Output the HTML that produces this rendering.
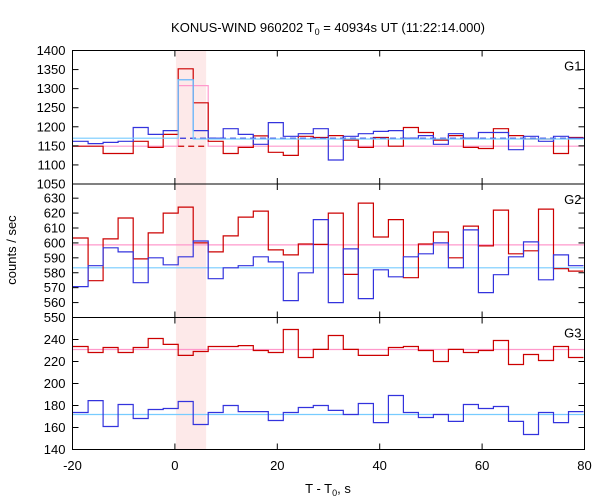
<!DOCTYPE html>
<html><head><meta charset="utf-8"><style>
body{margin:0;background:#fff}
svg{display:block;font-family:"Liberation Sans","DejaVu Sans",sans-serif}
</style></head><body>
<svg id="chart" width="600" height="500" viewBox="0 0 600 500" xmlns="http://www.w3.org/2000/svg"></svg>
<script>
const binStart = -19.88;
const binWidth = 2.932;
const xTicks = [-20, 0, 20, 40, 60, 80];
const shadeRange = [0.2, 6.1];

const g1Red = [1149,1149,1130,1130,1162,1146,1180,1352,1263,1162,1130,1146,1176,1133,1125,1175,1172,1177,1165,1146,1172,1149,1198,1185,1165,1177,1146,1143,1195,1177,1168,1168,1130,1172];
const g1Blue = [1162,1156,1159,1162,1198,1180,1190,1323,1190,1170,1195,1180,1154,1211,1175,1182,1195,1113,1175,1182,1188,1190,1170,1177,1154,1182,1170,1185,1185,1140,1175,1162,1175,1170];
const g1Cyan = [1170,1170,1170,1170,1170,1170,1170,1323,1168,1168,1168,1168,1168,1168,1168,1168,1168,1168,1168,1168,1168,1168,1168,1168,1168,1168,1168,1168,1168,1168,1168,1168,1168,1168];
const g1Pink = [1149,1149,1149,1149,1149,1149,1149,1308,1308,1149,1149,1149,1149,1149,1149,1149,1149,1149,1149,1149,1149,1149,1149,1149,1149,1149,1149,1149,1149,1149,1149,1149,1149,1149];
const g1BlueBg = 1170;
const g1RedBg = 1149;
const g1Ticks = [1050,1100,1150,1200,1250,1300,1350,1400];

const g2Red = [603.3,574.7,602.7,616.7,589.3,606.7,620,624,600,594,604.7,617.3,621.3,595.3,592,599.3,599,620,578.9,626.7,604,615.6,576.7,599.3,607.3,590,611.3,598,622,592.7,594.7,622.7,582.7,581.1];
const g2Blue = [570.7,584.7,596.7,594,573.3,590,585.3,590.7,601.3,576,583.3,584.7,590.7,587.3,561.3,580,615.6,560,596,562.7,582,577.3,590.7,592.7,600,583.3,608.7,566.7,578.7,590.7,600.7,575.3,592,584.7];
const g2PinkLevel = 598.7;
const g2CyanLevel = 583.3;
const g2Ticks = [550,560,570,580,590,600,610,620,630];

const g3Red = [233.6,228.2,232.7,228.2,232.7,240.9,235.5,225.5,229.1,233.6,233.6,234.5,230,228.2,249.1,223.6,231,243.6,231,225.5,225.5,232.7,233.6,230,220,231,228.2,230,239.1,217.3,226.4,220.9,233.6,223.6];
const g3Blue = [173.6,184.5,160.9,180.9,168.2,176.4,177.3,183.6,162.7,173.6,180,174.5,174.5,166.4,173.6,178.2,180,175.5,171.8,181.8,164.5,189.1,173.6,169.1,171.8,165.5,180.9,177.3,179.1,165.5,153.6,173.6,164.5,174.5];
const g3PinkLevel = 230.9;
const g3CyanLevel = 171.8;
const g3Ticks = [140,160,180,200,220,240];

const NS = "http://www.w3.org/2000/svg";
const svg = document.getElementById("chart");
const X0 = 72.5, X1 = 584.5;
function xs(t){ return X0 + (t + 20) / 100 * (X1 - X0); }
const panels = [
  {name:"g1", label:"G1", top:50.5, bottom:184, min:1050, max:1400, ticks:g1Ticks},
  {name:"g2", label:"G2", top:184, bottom:317.5, min:550, max:639.5, ticks:g2Ticks},
  {name:"g3", label:"G3", top:317.5, bottom:449.5, min:140, max:260, ticks:g3Ticks}
];
function ys(p, v){ return p.bottom - (v - p.min) / (p.max - p.min) * (p.bottom - p.top); }
function mk(tag, attrs, parent){
  const e = document.createElementNS(NS, tag);
  for (const k in attrs) e.setAttribute(k, attrs[k]);
  (parent || svg).appendChild(e);
  return e;
}
function stepPath(p, vals){
  let d = "";
  for (let i = 0; i < vals.length; i++){
    let a = binStart + i * binWidth, b = a + binWidth;
    if (i === 0) a = -20;
    if (b > 80) b = 80;
    const y = ys(p, vals[i]).toFixed(1);
    d += (i === 0 ? "M" : "L") + xs(a).toFixed(1) + "," + y + "L" + xs(b).toFixed(1) + "," + y;
  }
  return d;
}
function drawStep(p, vals, color, name, dash){
  const e = mk("path", {d: stepPath(p, vals), fill:"none", stroke:color, "stroke-width":1.2});
  if (dash) e.setAttribute("stroke-dasharray", dash);
  
  
}
function hline(p, v, t0, t1, color, name, dash){
  const e = mk("line", {x1:xs(t0), x2:xs(t1), y1:ys(p,v), y2:ys(p,v), stroke:color, "stroke-width":1.2});
  if (dash) e.setAttribute("stroke-dasharray", dash);
  
  
}

const sh = mk("rect", {x:xs(shadeRange[0]), y:50, width:xs(shadeRange[1]) - xs(shadeRange[0]), height:400, fill:"#fde9e9"});



const p1 = panels[0], p2 = panels[1], p3 = panels[2];
drawStep(p1, g1Pink, "#ff99cc", "g1-pink-model");
drawStep(p1, g1Red, "#cc0000", "g1-red-series");
drawStep(p1, g1Blue, "#3333dd", "g1-blue-series");
hline(p1, g1BlueBg, 1, 80, "#3333dd", "g1-blue-background-dashed", "6,4");
hline(p1, g1RedBg, binStart + 7*binWidth, binStart + 9*binWidth, "#cc0000", "g1-red-background-dashed", "6,4");
drawStep(p1, g1Cyan, "#77ccff", "g1-cyan-model");

hline(p2, g2PinkLevel, -20, 80, "#ff99cc", "g2-pink-background");
hline(p2, g2CyanLevel, -20, 80, "#77ccff", "g2-cyan-background");
drawStep(p2, g2Red, "#cc0000", "g2-red-series");
drawStep(p2, g2Blue, "#3333dd", "g2-blue-series");

hline(p3, g3PinkLevel, -20, 80, "#ff99cc", "g3-pink-background");
hline(p3, g3CyanLevel, -20, 80, "#77ccff", "g3-cyan-background");
drawStep(p3, g3Red, "#cc0000", "g3-red-series");
drawStep(p3, g3Blue, "#3333dd", "g3-blue-series");

panels.forEach((p, pi) => {
  const fr = mk("rect", {x:X0, y:p.top, width:X1 - X0, height:p.bottom - p.top, fill:"none", stroke:"#000", "stroke-width":1});
  
  
  p.ticks.forEach(v => {
    const y = ys(p, v);
    mk("line", {x1:X0, x2:X0 + 6, y1:y, y2:y, stroke:"#000"});
    mk("line", {x1:X1, x2:X1 - 6, y1:y, y2:y, stroke:"#000"});
    const t = mk("text", {x:X0 - 7, y:y + 4.5, "text-anchor":"end", "font-size":"13"});
    t.textContent = v;
    
    
  });
  xTicks.forEach(v => {
    const x = xs(v);
    mk("line", {x1:x, x2:x, y1:p.bottom, y2:p.bottom - 6, stroke:"#000"});
    mk("line", {x1:x, x2:x, y1:p.top, y2:p.top + 6, stroke:"#000"});
  });
  const lb = mk("text", {x:X1 - 3, y:p.top + 20, "text-anchor":"end", "font-size":"13"});
  lb.textContent = p.label;
  
  
});
xTicks.forEach(v => {
  const t = mk("text", {x:xs(v), y:470, "text-anchor":"middle", "font-size":"13"});
  t.textContent = v;
  
  
});
</script>
<svg style="position:absolute;left:0;top:0" width="600" height="500">
<text x="328" y="32" text-anchor="middle" font-size="13" font-family="Liberation Sans, sans-serif">KONUS-WIND 960202 T<tspan font-size="9" dy="3">0</tspan><tspan dy="-3"> = 40934s UT (11:22:14.000)</tspan></text>
<text x="16" y="250" text-anchor="middle" font-size="13" font-family="Liberation Sans, sans-serif" transform="rotate(-90 16 250)">counts / sec</text>
<text x="328" y="493" text-anchor="middle" font-size="13" font-family="Liberation Sans, sans-serif">T - T<tspan font-size="9" dy="3">0</tspan><tspan dy="-3">, s</tspan></text>
</svg>
</body></html>
